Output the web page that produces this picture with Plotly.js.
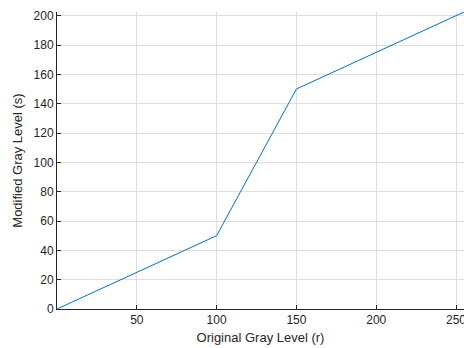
<!DOCTYPE html>
<html><head><meta charset="utf-8">
<script src="https://cdn.plot.ly/plotly-3.0.1.min.js"></script>
<style>body{margin:0;padding:0;background:#fff}#plot{width:464px;height:348px}</style>
</head><body><div id="plot"></div>
<script>
const rIn = [0, 100, 150, 255];
const sOut = [0, 50, 150, 202.5];
const xTicks = [50, 100, 150, 200, 250];
const yTicks = [0, 20, 40, 60, 80, 100, 120, 140, 160, 180, 200];

const fam = 'Liberation Sans, Arial, sans-serif';
const axFont = {family: fam, size: 12, color: '#262626'};
Plotly.newPlot('plot', [{
  x: rIn, y: sOut, type: 'scatter', mode: 'lines',
  line: {color: '#0072BD', width: 1}, hoverinfo: 'skip'
}], {
  width: 464, height: 348,
  margin: {l: 57, r: 0, t: 12, b: 39, pad: 0},
  paper_bgcolor: '#fff', plot_bgcolor: '#fff',
  showlegend: false,
  xaxis: {
    range: [0, 255], tickvals: xTicks, ticktext: xTicks.map(String),
    ticks: 'inside', ticklen: 4, tickcolor: '#262626', tickwidth: 1,
    showline: true, linecolor: '#262626', linewidth: 1, mirror: false,
    showgrid: true, gridcolor: '#dedede', gridwidth: 1, zeroline: false,
    tickfont: axFont, automargin: false, ticklabeloverflow: 'allow',
    title: {text: 'Original Gray Level (r)', font: {family: fam, size: 13, color: '#262626'}, standoff: 6}
  },
  yaxis: {
    range: [0, 202.5], tickvals: yTicks, ticktext: yTicks.map(String),
    ticks: 'inside', ticklen: 4, tickcolor: '#262626', tickwidth: 1,
    showline: true, linecolor: '#262626', linewidth: 1, mirror: false,
    showgrid: true, gridcolor: '#dedede', gridwidth: 1, zeroline: false,
    tickfont: axFont, automargin: false, ticklabeloverflow: 'allow',
    title: {text: 'Modified Gray Level (s)', font: {family: fam, size: 13, color: '#262626'}, standoff: 8}
  }
}, {staticPlot: true, displayModeBar: false});
</script></body></html>
